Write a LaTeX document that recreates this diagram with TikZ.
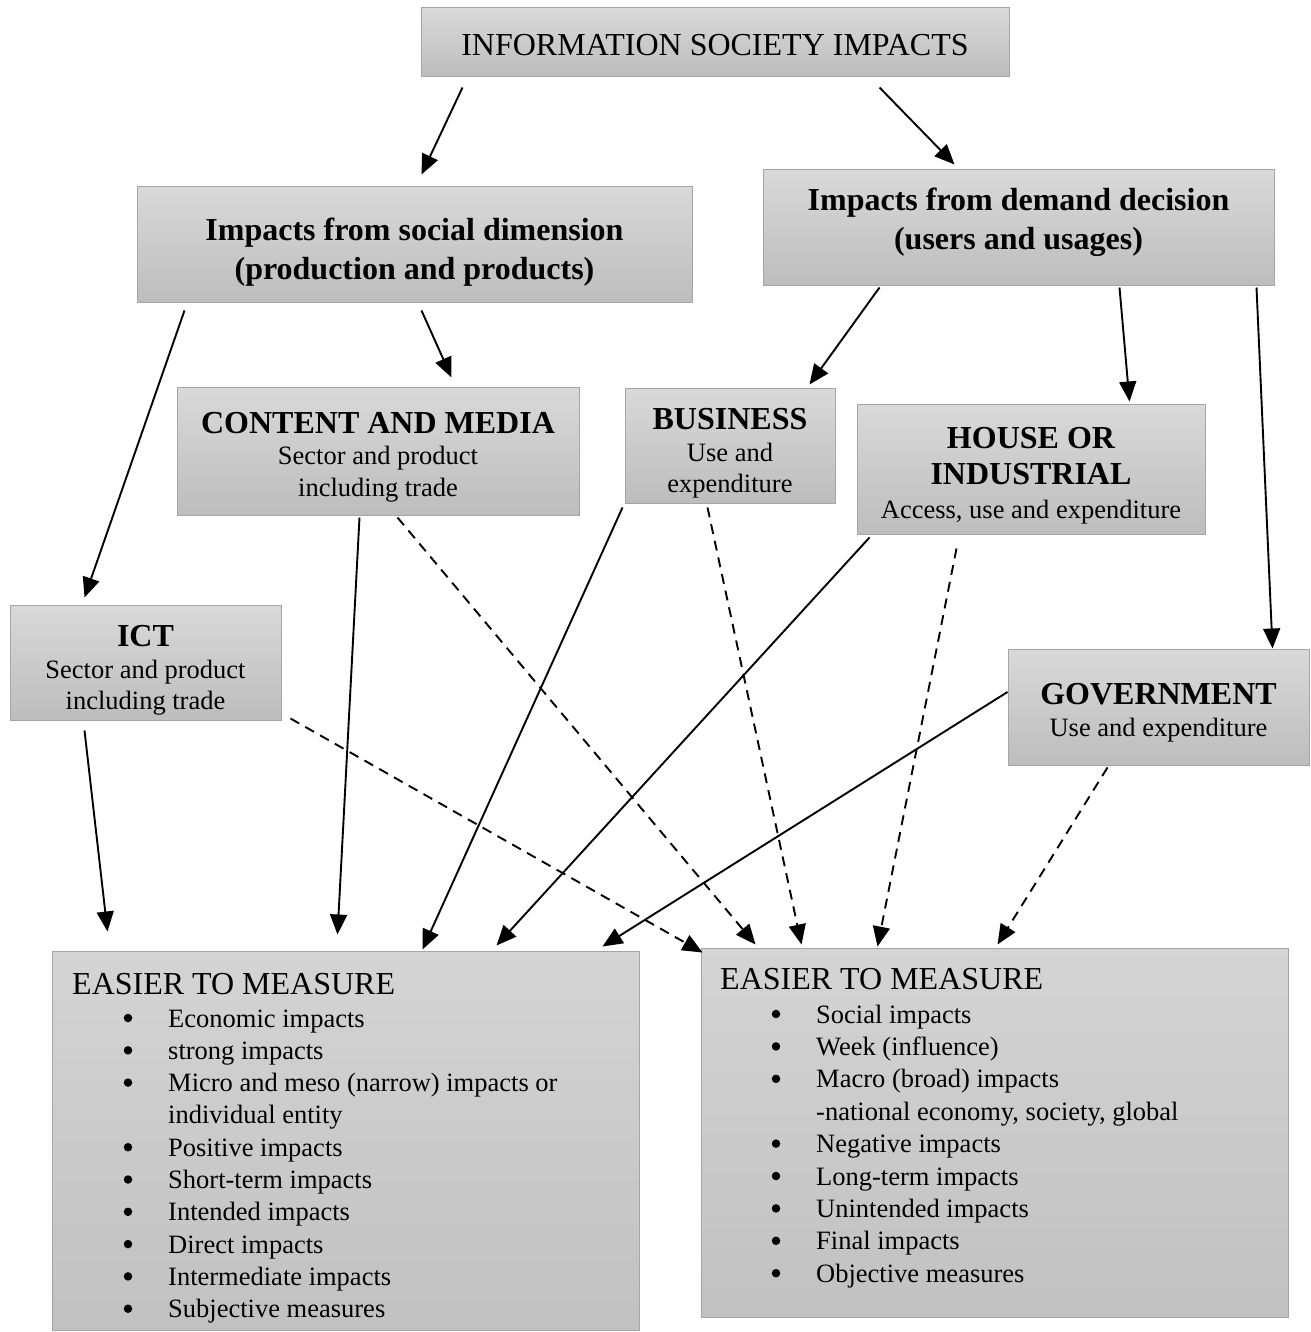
\documentclass[tikz,border=0pt]{standalone}
\usepackage{fontspec}
\setmainfont{Liberation Serif}
\usetikzlibrary{arrows.meta}

\definecolor{boxtop}{RGB}{217,217,217}
\definecolor{boxbot}{RGB}{189,189,189}
\definecolor{listtop}{RGB}{212,212,212}
\definecolor{listbot}{RGB}{193,193,193}
\definecolor{boxline}{RGB}{165,165,165}

\newcommand{\hd}[1]{{\fontsize{32}{34}\selectfont\bfseries #1}}

\begin{document}
\begin{tikzpicture}[x=1pt,y=-1pt,
  box/.style={draw=boxline, line width=1pt, top color=boxtop, bottom color=boxbot, inner sep=0pt},
  txt/.style={inner sep=0pt, align=center, font=\fontsize{26.5}{31.5}\selectfont},
  listbox/.style={draw=boxline, line width=1pt, top color=listtop, bottom color=listbot, inner sep=0pt},
  item/.style={anchor=base west, inner sep=0pt, font=\fontsize{26.5}{31.5}\selectfont},
  dot/.style={circle, fill=black, inner sep=0pt, minimum size=8.5pt},
  ttl/.style={anchor=base west, inner sep=0pt, font=\fontsize{32}{38}\selectfont},
  arr/.style={line width=1.9pt, -{Triangle[length=20pt,width=17pt]}},
  darr/.style={arr, dash pattern=on 10pt off 7pt}]

\useasboundingbox (0,0) rectangle (1310,1332);

% upper boxes and their texts
\node[box, minimum width=588, minimum height=69] (top) at (715,42.5) {};
\node[txt, font=\fontsize{32}{38}\selectfont] (top-t) at ([yshift=-3pt]top.center)
  {INFORMATION SOCIETY IMPACTS};

\node[box, minimum width=555, minimum height=115] (social) at (414.5,244.5) {};
\node[txt] (social-t) at ([yshift=-7.5pt]social.center)
  {\hd{Impacts from social dimension}\\[7pt]\hd{(production and products)}};

\node[box, minimum width=511, minimum height=115] (demand) at (1018.5,227.5) {};
\node[txt] (demand-t) at ([yshift=5pt]demand.center)
  {\hd{Impacts from demand decision}\\[7pt]\hd{(users and usages)}};

\node[box, minimum width=402, minimum height=128] (content) at (378,451) {};
\node[txt] (content-t) at ([yshift=-6pt]content.center)
  {\hd{CONTENT AND MEDIA}\\Sector and product\\including trade};

\node[box, minimum width=210, minimum height=115] (business) at (730,445.5) {};
\node[txt] (business-t) at ([yshift=-8pt]business.center)
  {\hd{BUSINESS}\\Use and\\expenditure};

\node[box, minimum width=348, minimum height=130] (house) at (1031,469) {};
\node[txt] (house-t) at ([yshift=-6.5pt]house.center)
  {\hd{HOUSE OR}\\[5pt]\hd{INDUSTRIAL}\\[2pt]Access, use and expenditure};

\node[box, minimum width=271, minimum height=115] (ict) at (145.5,662.5) {};
\node[txt] (ict-t) at ([yshift=-8pt]ict.center)
  {\hd{ICT}\\Sector and product\\including trade};

\node[box, minimum width=301, minimum height=116] (gov) at (1158.5,707) {};
\node[txt] (gov-t) at ([yshift=-5.5pt]gov.center)
  {\hd{GOVERNMENT}\\[1pt]Use and expenditure};

% lower boxes with their lists
\node[listbox, minimum width=587, minimum height=379] (left) at (345.5,1140.5) {};
\node[listbox, minimum width=587, minimum height=369] (right) at (994.5,1132.5) {};

\node[ttl] (lt) at (72,994) {EASIER TO MEASURE};
\foreach \t [count=\i] in {Economic impacts, strong impacts,
    Micro and meso (narrow) impacts or, individual entity, Positive impacts,
    Short-term impacts, Intended impacts, Direct impacts,
    Intermediate impacts, Subjective measures} {
  \node[item] (li\i) at (168,{1027+32.3*(\i-1)}) {\t};
}
\foreach \i in {1,2,3,5,6,7,8,9,10} {
  \node[dot] (lb\i) at (128,{1018+32.3*(\i-1)}) {};
}

\node[ttl] (rt) at (720,989) {EASIER TO MEASURE};
\foreach \t [count=\i] in {Social impacts, Week (influence), Macro (broad) impacts,
    {-national economy, society, global}, Negative impacts, Long-term impacts,
    Unintended impacts, Final impacts, Objective measures} {
  \node[item] (ri\i) at (816,{1023+32.4*(\i-1)}) {\t};
}
\foreach \i in {1,2,3,5,6,7,8,9} {
  \node[dot] (rb\i) at (776,{1014+32.4*(\i-1)}) {};
}

% connectors between the upper boxes
\draw[arr] ([shift={(42,10)}]top.south west) -- ([shift={(285,-12)}]social.north west);
\draw[arr] ([shift={(459,10)}]top.south west) -- ([shift={(192,-5)}]demand.north west);
\draw[arr] ([shift={(48,8)}]social.south west) -- ([shift={(75,-7)}]ict.north west);
\draw[arr] ([shift={(285,8)}]social.south west) -- ([shift={(275,-9)}]content.north west);
\draw[arr] ([shift={(117,2)}]demand.south west) -- ([shift={(185,-3)}]business.north west);
\draw[arr] ([shift={(357,2)}]demand.south west) -- ([shift={(273,-2)}]house.north west);
\draw[arr] ([shift={(494,2)}]demand.south west) -- ([shift={(265,0)}]gov.north west);

% solid connectors into the left lower box
\draw[arr] ([shift={(75,10)}]ict.south west) -- ([shift={(56,-19)}]left.north west);
\draw[arr] ([shift={(183,2)}]content.south west) -- ([shift={(286,-16)}]left.north west);
\draw[arr] ([shift={(-2,4)}]business.south west) -- ([shift={(371,-1)}]left.north west);
\draw[arr] ([shift={(13,3)}]house.south west) -- ([shift={(445,-5)}]left.north west);
\draw[arr] ([shift={(0,-15)}]gov.west) -- ([shift={(551,-4)}]left.north west);

% dashed connectors into the right lower box
\draw[darr] ([shift={(9,-2)}]ict.south east) -- ([shift={(2,5)}]right.north west);
\draw[darr] ([shift={(221,2)}]content.south west) -- ([shift={(55,-3)}]right.north west);
\draw[darr] ([shift={(83,4)}]business.south west) -- ([shift={(101,-3)}]right.north west);
\draw[darr] ([shift={(100,14)}]house.south west) -- ([shift={(177,-1)}]right.north west);
\draw[darr] ([shift={(100,2)}]gov.south west) -- ([shift={(297,-3)}]right.north west);
\end{tikzpicture}
\end{document}
